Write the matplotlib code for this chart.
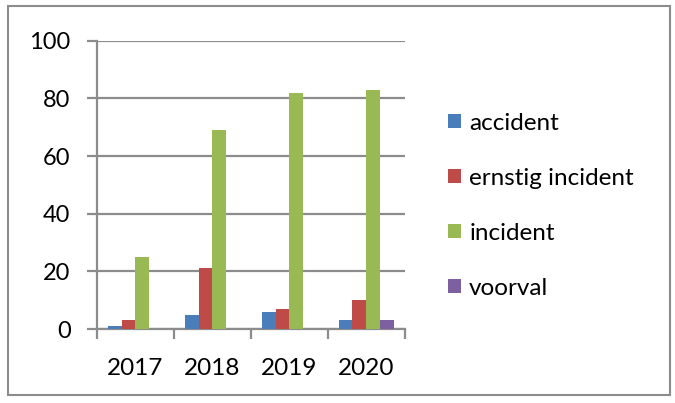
import numpy as np
import matplotlib.pyplot as plt
from matplotlib.patches import Rectangle

plt.rcParams['font.family'] = ['Lato', 'DejaVu Sans']

years = ['2017', '2018', '2019', '2020']
series = ['accident', 'ernstig incident', 'incident', 'voorval']
accident = [1, 5, 6, 3]
ernstig = [3, 21, 7, 10]
incident = [25, 69, 82, 83]
voorval = [0, 0, 0, 3]
values = [accident, ernstig, incident, voorval]
colors = ['#4a7ebb', '#be4b48', '#98b954', '#7d60a0']

fig = plt.figure(figsize=(6.75, 4.03), dpi=100)
ax = fig.add_axes([0.1437, 0.1836, 0.456, 0.715])

x = np.arange(len(years))
w = 0.18
for i, (name, vals) in enumerate(zip(series, values)):
    ax.bar(x + (i - 1.5) * w, vals, w, color=colors[i], label=name, zorder=3)

ax.set_ylim(0, 100)
ax.set_xlim(-0.5, len(years) - 0.5)
ax.set_yticks(range(0, 101, 20))
ax.yaxis.grid(True, color='#8c8c8c', linewidth=1.6)
ax.set_axisbelow(True)

# category labels between boundary ticks
ax.set_xticks(np.arange(-0.5, len(years)), minor=False)
ax.set_xticklabels([])
ax.set_xticks(x, minor=True)
ax.set_xticklabels(years, minor=True)
ax.tick_params(axis='x', which='major', length=7, width=1.6, color='#8c8c8c')
ax.tick_params(axis='x', which='minor', length=0, labelsize=17.5, pad=21)
ax.tick_params(axis='y', length=7, width=1.6, color='#8c8c8c', labelsize=17, pad=12)

for s in ['top', 'right']:
    ax.spines[s].set_visible(False)
for s in ['left', 'bottom']:
    ax.spines[s].set_color('#8c8c8c')
    ax.spines[s].set_linewidth(1.6)

leg = fig.legend(loc='upper left', bbox_to_anchor=(0.632, 0.775), frameon=False,
                 fontsize=17.5, handlelength=0.5, handleheight=0.5,
                 handletextpad=0.35, labelspacing=1.4)

fig.patches.append(Rectangle((0.012, 0.02), 0.98, 0.965, transform=fig.transFigure,
                             fill=False, edgecolor='#8c8c8c', linewidth=1.5))

fig.savefig('out.png', dpi=100, facecolor='white')
